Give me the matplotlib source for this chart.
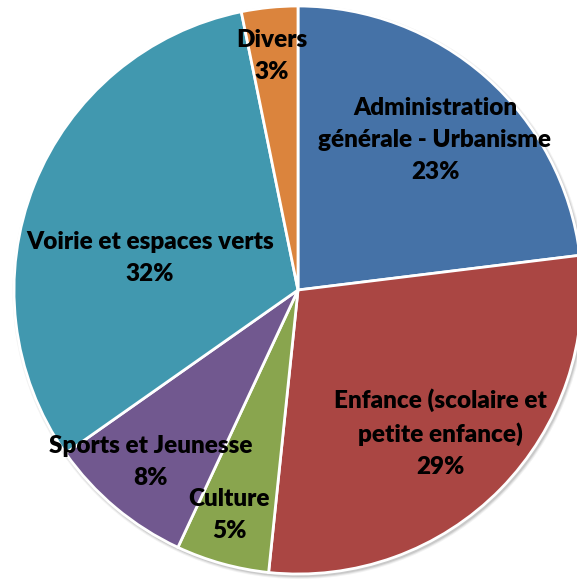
import matplotlib
matplotlib.use("Agg")
import matplotlib.pyplot as plt
from matplotlib.patches import Circle

categories = ["Administration\ngénérale - Urbanisme",
              "Enfance (scolaire et\npetite enfance)",
              "Culture",
              "Sports et Jeunesse",
              "Voirie et espaces verts",
              "Divers"]
values = [23.05, 28.6, 5.3, 8.3, 31.55, 3.2]
colors = ["#4572A7", "#AA4643", "#89A54E", "#71588F", "#4198AF", "#DB843D"]

# layout (pixel coordinates of label centres)
label_pos = [(435, 140), (440, 433), (229, 515), (151, 462), (150, 258), (272, 56)]
CX, CY, R = 298, 290, 284

fig = plt.figure(figsize=(5.77, 5.83), dpi=100)
ax = fig.add_axes([0, 0, 1, 1])

# soft shadow
for i, a in enumerate([0.05, 0.07, 0.1]):
    ax.add_patch(Circle((CX + 1.5, CY + 2), R + 3 - i, color="#000000", alpha=a, lw=0, zorder=0))

ax.pie(values, colors=colors, startangle=-90, counterclock=True,
       center=(CX, CY), radius=R, frame=True,
       wedgeprops=dict(edgecolor="white", linewidth=2, zorder=1))
ax.set_xlim(0, 577)
ax.set_ylim(583, 0)
ax.set_aspect("equal")
ax.axis("off")

total = sum(values)
for cat, v, (x, y) in zip(categories, values, label_pos):
    ax.text(x, y, f"{cat}\n{round(v / total * 100)}%", ha="center", va="center",
            fontsize=17.5, fontweight="heavy", family="Lato", linespacing=1.55,
            color="black", zorder=5)

fig.savefig("out.png", dpi=100)
